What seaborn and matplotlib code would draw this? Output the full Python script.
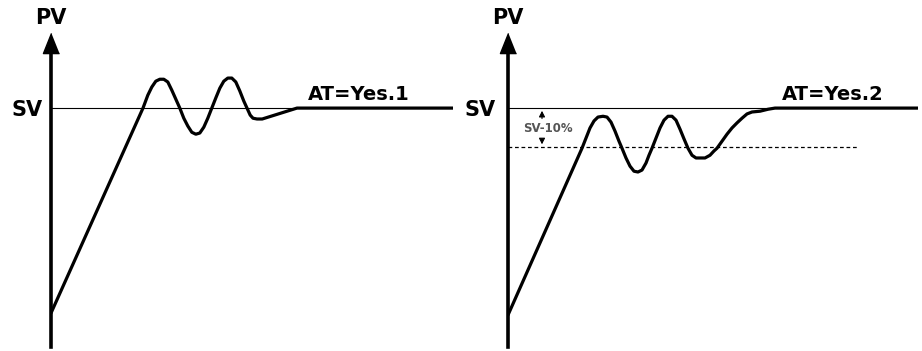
import matplotlib
matplotlib.use("Agg")
import matplotlib.pyplot as plt
import seaborn as sns
import pandas as pd

sns.set_style("white")
plt.rcParams['font.family'] = ['DejaVu Sans']
plt.rcParams['text.color'] = 'black'

# ==========================================
# Data (time units, PV units; SV = 100)
# ==========================================
SV = 100
SV_LOW = 90  # SV-10% band

# AT=Yes.1 response
t1 = [0, 23, 24.2, 25.2, 26.2, 27.2, 28.2, 29.2, 30.2, 31.2, 32.2, 33.2, 34.2, 35.2,
      36.2, 37.2, 38.2, 39.2, 40.2, 41.2, 42.2, 43.2, 44.2, 45.2, 46.2, 47.2, 48.2,
      49, 49.8, 50.5, 51.5, 52.8, 61.5, 100.5]
pv1 = [47.4, 100, 103.3, 105.4, 106.9, 107.4, 107.4, 106.7, 104.6, 102.3, 100, 97.4,
       95.4, 93.8, 93.3, 93.6, 95.1, 97.4, 100, 102.6, 105.1, 106.9, 107.7, 107.7,
       106.7, 104.4, 101.8, 100, 98.2, 97.4, 97.2, 97.2, 100, 100]

# AT=Yes.2 response
t2 = [0, 18.5, 19.5, 20.5, 21.5, 22.5, 23.75, 24.75, 25.75, 26.75, 27.75, 28.5, 29.5,
      30.5, 31.5, 32.5, 33.5, 34.5, 35.25, 36, 37, 38, 39, 40, 41, 42, 43, 44, 45, 46,
      47, 48, 49.25, 50.5, 51.5, 52.25, 53.5, 54.75, 56, 57.25, 58.5, 59.75, 61, 63,
      65, 66.75, 102.5]
pv2 = [46.9, 89.7, 92.3, 94.9, 96.7, 97.7, 97.9, 97.7, 96.4, 94.1, 91.5, 89.7, 87.2,
       85.1, 83.8, 83.6, 84.1, 85.9, 87.9, 89.7, 92.3, 94.9, 96.9, 97.9, 97.9, 96.9,
       94.6, 92.1, 89.7, 87.9, 87.2, 87.2, 87.2, 87.9, 89.0, 89.7, 91.5, 93.3, 94.9,
       96.2, 97.4, 98.5, 99.0, 99.2, 99.7, 100, 100]

panels = [
    {"t": t1, "pv": pv1, "label": "AT=Yes.1", "xmax": 100.5, "label_t": 64.2,
     "sv_dx": -2.2, "left_px": 51, "right_px": 453, "band": False},
    {"t": t2, "pv": pv2, "label": "AT=Yes.2", "xmax": 102.5, "label_t": 68.4,
     "sv_dx": -3.2, "left_px": 508, "right_px": 918, "band": True},
]
band_end = 87.5
band_arrow_t = 8.5

W, H = 922, 351
fig = plt.figure(figsize=(W / 100, H / 100), dpi=100)

for p in panels:
    ax = fig.add_axes([p["left_px"] / W, 4 / H,
                       (p["right_px"] - p["left_px"]) / W, 304 / H])
    ax.set_xlim(0, p["xmax"])
    ax.set_ylim(38.7, 116.7)

    # setpoint line
    ax.plot([0, p["xmax"]], [SV, SV], color="black", lw=0.8)
    if p["band"]:
        ax.plot([0, band_end], [SV_LOW, SV_LOW], color="black", lw=0.9,
                linestyle=(0, (3, 2.2)))
        ax.annotate("", xy=(band_arrow_t, SV), xytext=(band_arrow_t, 96.6),
                    arrowprops=dict(arrowstyle="-|>,head_length=0.35,head_width=0.18",
                                    color="black", lw=0.8))
        ax.annotate("", xy=(band_arrow_t, SV_LOW), xytext=(band_arrow_t, 92.2),
                    arrowprops=dict(arrowstyle="-|>,head_length=0.35,head_width=0.18",
                                    color="black", lw=0.8))
        ax.text(10, 94.8, "SV-10%", ha="center", va="center", fontsize=8.5,
                fontweight="bold", color="#555555")

    df = pd.DataFrame({"t": p["t"], "pv": p["pv"]})
    sns.lineplot(data=df, x="t", y="pv", ax=ax, color="black", lw=2.3,
                 sort=False, estimator=None, solid_joinstyle="round",
                 solid_capstyle="round")

    # vertical PV axis with arrowhead
    for s in ["top", "right", "bottom"]:
        ax.spines[s].set_visible(False)
    ax.spines["left"].set_linewidth(2.6)
    ax.spines["left"].set_color("black")
    ax.plot(0, 1, marker=[(0, 1), (-0.8, -1), (0.8, -1)], ms=14.5, color="black",
            transform=ax.transAxes, clip_on=False)
    ax.set_xticks([])
    ax.set_yticks([])
    ax.set_xlabel("")
    ax.set_ylabel("")

    ax.text(0, 123.2, "PV", ha="center", va="center", fontsize=15,
            fontweight="bold", color="black")
    ax.text(p["sv_dx"], 99.4, "SV", ha="right", va="center", fontsize=15,
            fontweight="bold", color="black")
    ax.text(p["label_t"], 102, p["label"], ha="left", va="baseline", fontsize=14,
            fontweight="bold", color="black")

fig.savefig("out.png", dpi=100)
